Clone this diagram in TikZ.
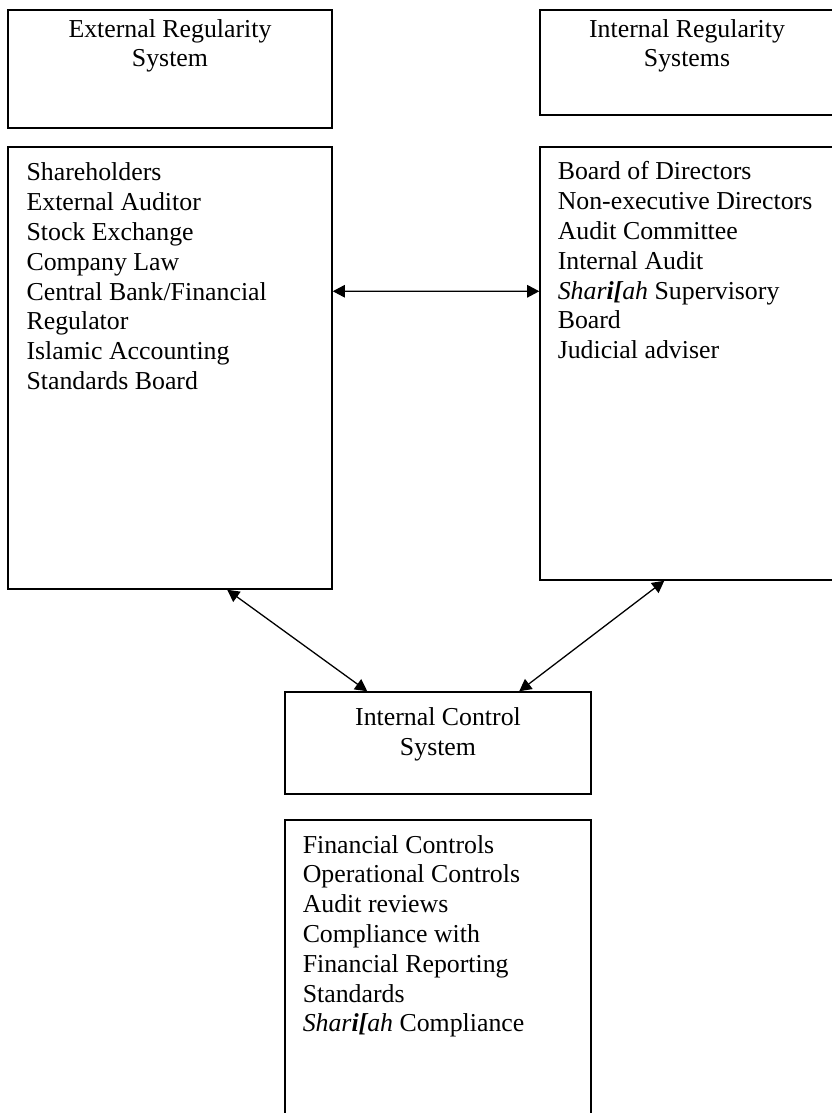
\documentclass[tikz,border=0pt]{standalone}
\usepackage{fontspec}
\setmainfont{Liberation Serif}
\usepackage{tikz}
\usetikzlibrary{arrows.meta, positioning}
\newcommand{\shariah}{\textit{Shar\textbf{i[}ah}}

\begin{document}
\begin{tikzpicture}[
    x=0.4647pt, y=-0.4647pt,
    box/.style={draw, line width=0.7pt, inner sep=0pt},
    head/.style={inner sep=0pt, align=center, font=\fontsize{12pt}{13.85pt}\selectfont},
    list/.style={inner sep=0pt, align=left, font=\fontsize{12pt}{13.85pt}\selectfont},
    arrow/.style={<->, line width=0.6pt, >={Triangle[length=5.6pt, width=5.8pt]}}
]
    \useasboundingbox (0,0) rectangle (832,1113);

    % headings
    \node[box, minimum width=150.6pt, minimum height=54.8pt] (extsys) at (170, 69) {};
    \node[box, minimum width=136.6pt, minimum height=48.8pt] (intsys) at (687, 62.5) {};
    \node[head, below=4.4pt of extsys.north] (extsyst) {External Regularity\\System};
    \node[head, below=4.4pt of intsys.north] (intsyst) {Internal Regularity\\Systems};

    % member lists
    \node[box, minimum width=150.6pt, minimum height=205.4pt] (extlist) at (170, 368) {};
    \node[box, minimum width=136.6pt, minimum height=201.2pt] (intlist) at (687, 363.5) {};
    \node[list, below right=7.6pt and 8.8pt of extlist.north west] (extlistt)
        {Shareholders\\External Auditor\\Stock Exchange\\Company Law\\Central Bank/Financial\\Regulator\\Islamic Accounting\\Standards Board};
    \node[list, below right=7.0pt and 8.4pt of intlist.north west] (intlistt)
        {Board of Directors\\Non-executive Directors\\Audit Committee\\Internal Audit\\\shariah{} Supervisory\\Board\\Judicial adviser};

    % internal control
    \node[box, minimum width=142.2pt, minimum height=47.4pt] (ctrl) at (438, 743) {};
    \node[head, below=7.4pt of ctrl.north] (ctrlt) {Internal Control\\System};
    \node[box, minimum width=142.2pt, minimum height=141.7pt] (ctrllist) at (438, 972.5) {};
    \node[list, below right=7.2pt and 8.4pt of ctrllist.north west] (ctrllistt)
        {Financial Controls\\Operational Controls\\Audit reviews\\Compliance with\\Financial Reporting\\Standards\\\shariah{} Compliance};

    \draw[arrow] ([shift={(0,145)}]extlist.north east) -- ([shift={(0,145)}]intlist.north west);
    \draw[arrow] ([shift={(220,0)}]extlist.south west) -- ([shift={(83,0)}]ctrl.north west);
    \draw[arrow] ([shift={(125,0)}]intlist.south west) -- ([shift={(235,0)}]ctrl.north west);
\end{tikzpicture}
\end{document}
